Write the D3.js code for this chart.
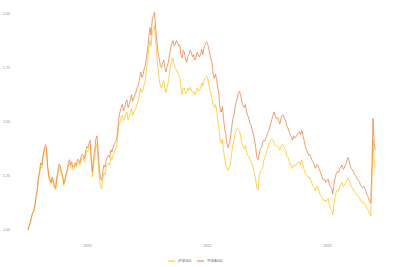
<!DOCTYPE html>
<html>
<head>
<meta charset="utf-8">
<script src="https://cdn.jsdelivr.net/npm/d3@7"></script>
<style>
  html, body { margin: 0; padding: 0; background: #fff; }
  svg { display: block; font-family: "Liberation Sans", "Noto Sans CJK SC", sans-serif; }
</style>
</head>
<body>
<svg id="chart" width="393" height="267"></svg>
<script>
// weekly index levels, base = 1.00 at start of 2019
const START = new Date(2019, 0, 4);
const STEP_DAYS = 7;

const seriesNames = ["沪深300", "中证A500"];
const seriesColors = ["#FFC20E", "#E87A3A"];

const hs300 = [
  // 2019
  1.00, 1.018, 1.03, 1.055, 1.08, 1.088, 1.11, 1.15, 1.175, 1.23, 1.255, 1.295, 1.285,
  1.33, 1.36, 1.38, 1.37, 1.29, 1.24, 1.225, 1.21, 1.235, 1.215, 1.19, 1.185, 1.235,
  1.255, 1.29, 1.28, 1.26, 1.245, 1.205, 1.22, 1.25, 1.265, 1.295, 1.31, 1.29, 1.30,
  1.28, 1.285, 1.30, 1.29, 1.31, 1.31, 1.30, 1.32, 1.335, 1.33, 1.315, 1.34, 1.365,
  // 2020
  1.36, 1.38, 1.39, 1.31, 1.245, 1.30, 1.335, 1.385, 1.40, 1.32, 1.24, 1.20, 1.19,
  1.235, 1.265, 1.255, 1.29, 1.30, 1.31, 1.30, 1.335, 1.325, 1.345, 1.355, 1.37, 1.385,
  1.43, 1.485, 1.50, 1.52, 1.53, 1.505, 1.515, 1.535, 1.545, 1.51, 1.52, 1.54, 1.56,
  1.53, 1.545, 1.555, 1.565, 1.585, 1.60, 1.63, 1.655, 1.635, 1.645, 1.675, 1.69, 1.74,
  // 2021
  1.785, 1.84, 1.875, 1.85, 1.915, 1.93, 1.945, 1.87, 1.81, 1.745, 1.70, 1.665, 1.655,
  1.675, 1.69, 1.655, 1.635, 1.66, 1.685, 1.725, 1.76, 1.78, 1.795, 1.765, 1.75, 1.74,
  1.73, 1.715, 1.71, 1.66, 1.625, 1.655, 1.655, 1.63, 1.635, 1.655, 1.645, 1.66, 1.645,
  1.635, 1.64, 1.625, 1.635, 1.655, 1.645, 1.645, 1.655, 1.68, 1.665, 1.69, 1.70, 1.71,
  // 2022
  1.705, 1.68, 1.655, 1.625, 1.61, 1.575, 1.565, 1.58, 1.555, 1.51, 1.47, 1.415, 1.40,
  1.42, 1.37, 1.33, 1.30, 1.285, 1.275, 1.29, 1.31, 1.35, 1.39, 1.41, 1.44, 1.46,
  1.47, 1.465, 1.455, 1.43, 1.40, 1.385, 1.375, 1.39, 1.36, 1.345, 1.34, 1.32, 1.315,
  1.30, 1.28, 1.26, 1.23, 1.195, 1.185, 1.25, 1.27, 1.28, 1.285, 1.32, 1.335, 1.355,
  // 2023
  1.37, 1.39, 1.405, 1.415, 1.42, 1.415, 1.40, 1.39, 1.385, 1.39, 1.38, 1.37, 1.385,
  1.395, 1.39, 1.38, 1.37, 1.345, 1.335, 1.32, 1.305, 1.29, 1.285, 1.30, 1.295, 1.30,
  1.31, 1.315, 1.315, 1.30, 1.325, 1.30, 1.28, 1.265, 1.255, 1.25, 1.24, 1.245, 1.23,
  1.215, 1.20, 1.195, 1.18, 1.20, 1.20, 1.18, 1.165, 1.155, 1.145, 1.135, 1.14, 1.13,
  // 2024
  1.14, 1.145, 1.115, 1.10, 1.09, 1.07, 1.12, 1.15, 1.175, 1.185, 1.18, 1.20, 1.21,
  1.22, 1.20, 1.205, 1.215, 1.225, 1.24, 1.235, 1.215, 1.20, 1.195, 1.185, 1.175, 1.17,
  1.16, 1.155, 1.15, 1.14, 1.13, 1.125, 1.13, 1.12, 1.11, 1.10, 1.09, 1.075, 1.065,
  1.20, 1.415, 1.31, 1.285
];

const a500 = [
  // 2019
  1.00, 1.02, 1.037, 1.06, 1.08, 1.09, 1.115, 1.16, 1.185, 1.24, 1.27, 1.31, 1.30,
  1.345, 1.37, 1.395, 1.385, 1.30, 1.255, 1.235, 1.22, 1.245, 1.23, 1.20, 1.195, 1.245,
  1.27, 1.305, 1.295, 1.27, 1.255, 1.215, 1.23, 1.26, 1.275, 1.31, 1.325, 1.30, 1.315,
  1.29, 1.295, 1.31, 1.30, 1.325, 1.325, 1.31, 1.335, 1.35, 1.345, 1.33, 1.36, 1.385,
  // 2020
  1.38, 1.40, 1.415, 1.33, 1.27, 1.33, 1.37, 1.42, 1.435, 1.36, 1.285, 1.24, 1.23,
  1.27, 1.30, 1.29, 1.325, 1.335, 1.345, 1.335, 1.37, 1.36, 1.38, 1.395, 1.405, 1.42,
  1.46, 1.52, 1.545, 1.565, 1.58, 1.55, 1.565, 1.59, 1.60, 1.565, 1.58, 1.60, 1.625,
  1.595, 1.61, 1.625, 1.64, 1.66, 1.67, 1.70, 1.73, 1.705, 1.715, 1.745, 1.76, 1.80,
  // 2021
  1.83, 1.89, 1.935, 1.90, 1.97, 1.99, 2.005, 1.93, 1.875, 1.82, 1.795, 1.76, 1.75,
  1.77, 1.785, 1.75, 1.73, 1.755, 1.775, 1.81, 1.84, 1.86, 1.875, 1.85, 1.855, 1.875,
  1.865, 1.85, 1.855, 1.81, 1.795, 1.83, 1.82, 1.79, 1.775, 1.80, 1.81, 1.83, 1.82,
  1.80, 1.81, 1.785, 1.795, 1.82, 1.81, 1.80, 1.81, 1.835, 1.81, 1.84, 1.855, 1.87,
  // 2022
  1.865, 1.84, 1.82, 1.79, 1.775, 1.72, 1.70, 1.72, 1.695, 1.66, 1.625, 1.56, 1.545,
  1.57, 1.515, 1.47, 1.44, 1.40, 1.38, 1.40, 1.425, 1.47, 1.51, 1.53, 1.565, 1.59,
  1.61, 1.635, 1.64, 1.62, 1.59, 1.575, 1.565, 1.58, 1.545, 1.53, 1.515, 1.49, 1.485,
  1.46, 1.44, 1.415, 1.38, 1.335, 1.325, 1.35, 1.375, 1.38, 1.405, 1.415, 1.41, 1.43,
  // 2023
  1.44, 1.455, 1.47, 1.49, 1.51, 1.53, 1.545, 1.525, 1.515, 1.52, 1.505, 1.49, 1.515,
  1.53, 1.53, 1.515, 1.505, 1.48, 1.47, 1.455, 1.44, 1.43, 1.415, 1.435, 1.425, 1.43,
  1.44, 1.45, 1.455, 1.44, 1.46, 1.44, 1.415, 1.39, 1.37, 1.36, 1.345, 1.35, 1.335,
  1.32, 1.315, 1.30, 1.285, 1.30, 1.30, 1.285, 1.27, 1.255, 1.24, 1.23, 1.235, 1.22,
  // 2024
  1.23, 1.235, 1.21, 1.20, 1.195, 1.165, 1.21, 1.24, 1.26, 1.27, 1.265, 1.285, 1.29,
  1.30, 1.28, 1.285, 1.30, 1.31, 1.335, 1.325, 1.30, 1.285, 1.28, 1.27, 1.255, 1.25,
  1.24, 1.23, 1.225, 1.21, 1.20, 1.195, 1.20, 1.19, 1.175, 1.16, 1.15, 1.13, 1.125,
  1.28, 1.515, 1.40, 1.37
];

const yTicks = [1.00, 1.25, 1.50, 1.75, 2.00];
const xTickYears = [2020, 2022, 2024];

const dates = hs300.map((_, i) => d3.timeDay.offset(START, i * STEP_DAYS));
const series = [hs300, a500];

const svg = d3.select("#chart");

const x = d3.scaleTime()
  .domain([new Date(2020, 0, 1), new Date(2024, 0, 1)])
  .range([87.5, 327.5]);

const y = d3.scaleLinear()
  .domain([1, 2])
  .range([230, 13.5]);

// y labels (no axis line, no grid)
svg.append("g")
  .selectAll("text")
  .data(yTicks)
  .join("text")
  .attr("x", 10)
  .attr("y", d => y(d))
  .attr("text-anchor", "end")
  .attr("dominant-baseline", "central")
  .attr("font-size", 3.6)
  .attr("fill", "#8a8a8a")
  .text(d3.format(".2f"));

// x labels
svg.append("g")
  .selectAll("text")
  .data(xTickYears)
  .join("text")
  .attr("x", d => x(new Date(d, 0, 1)))
  .attr("y", 246)
  .attr("text-anchor", "middle")
  .attr("dominant-baseline", "central")
  .attr("font-size", 3.6)
  .attr("fill", "#8a8a8a")
  .text(d => d);

const line = d3.line()
  .x((d, i) => x(dates[i]))
  .y(d => y(d));

svg.append("g")
  .selectAll("path")
  .data(series)
  .join("path")
  .attr("d", line)
  .attr("fill", "none")
  .attr("stroke", (d, i) => seriesColors[i])
  .attr("stroke-width", 0.8)
  .attr("stroke-linejoin", "round")
  .attr("opacity", 0.9);

// legend
const legend = svg.append("g").attr("transform", "translate(168,261)");
const items = legend.selectAll("g")
  .data(seriesNames)
  .join("g")
  .attr("transform", (d, i) => `translate(${i * 29},0)`);
items.append("line")
  .attr("x1", 0).attr("x2", 7)
  .attr("stroke", (d, i) => seriesColors[i])
  .attr("stroke-width", 1);
items.append("text")
  .attr("x", 10)
  .attr("dominant-baseline", "central")
  .attr("font-size", 3.6)
  .attr("fill", "#666")
  .text(d => d);
</script>
</body>
</html>
